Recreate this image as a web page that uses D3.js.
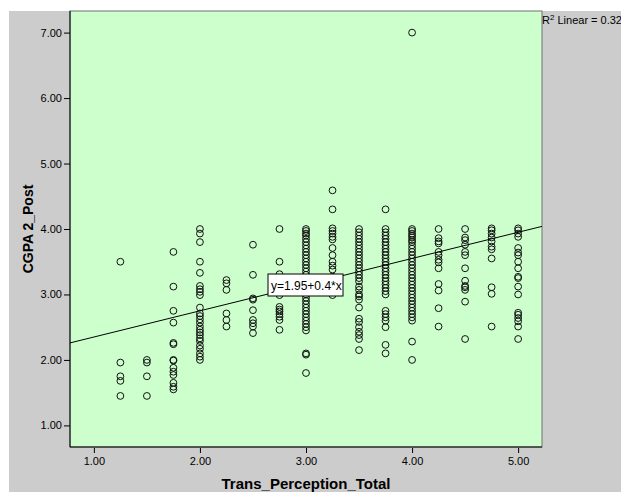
<!DOCTYPE html>
<html>
<head>
<meta charset="utf-8">
<script src="https://cdn.jsdelivr.net/npm/d3@7"></script>
<style>
body { margin: 0; background: #ffffff; }
text { font-family: Arial, "Liberation Sans", sans-serif; }
</style>
</head>
<body>
<svg></svg>
<script>
var screen = {width: 621, height: 492};
var plot = {left: 70, right: 542, top: 11, bottom: 447};

// x categories of Trans_Perception_Total
var xValues = [1.25, 1.5, 1.75, 2.0, 2.25, 2.5, 2.75, 3.0, 3.25, 3.5, 3.75, 4.0, 4.25, 4.5, 4.75, 5.0];

// CGPA 2_Post values for each x category
var col125 = [3.5, 1.96, 1.75, 1.68, 1.45];
var col150 = [2.0, 1.96, 1.75, 1.45];
var col175 = [3.65, 3.12, 2.75, 2.57, 2.26, 2.24, 2.0, 1.99, 1.88, 1.82, 1.77, 1.65, 1.59, 1.55];
var col200 = [4.0, 3.93, 3.8, 3.5, 3.33, 3.13, 3.08, 3.04, 2.99, 2.8, 2.71, 2.67, 2.62, 2.57, 2.51, 2.46, 2.42, 2.38, 2.33, 2.29, 2.22, 2.17, 2.1, 2.05, 2.0];
var col225 = [3.22, 3.17, 3.07, 2.71, 2.61, 2.51];
var col250 = [3.76, 3.3, 2.94, 2.92, 2.76, 2.61, 2.56, 2.51, 2.41];
var col275 = [4.0, 3.5, 3.31, 3.22, 2.99, 2.81, 2.77, 2.74, 2.7, 2.66, 2.61, 2.46];
var col300 = [4.0, 3.97, 3.93, 3.9, 3.85, 3.8, 3.75, 3.7, 3.65, 3.6, 3.55, 3.5, 3.45, 3.4, 3.35, 3.3, 3.25, 3.2, 3.15, 3.1, 3.05, 3.0, 2.95, 2.9, 2.85, 2.8, 2.75, 2.7, 2.65, 2.6, 2.55, 2.5, 2.45, 2.1, 2.08, 1.8];
var col325 = [4.59, 4.3, 4.01, 3.97, 3.93, 3.88, 3.84, 3.71, 3.6, 3.5, 3.44, 3.38, 3.27, 3.07, 2.99];
var col350 = [4.0, 3.95, 3.9, 3.85, 3.8, 3.75, 3.7, 3.65, 3.6, 3.55, 3.5, 3.45, 3.4, 3.35, 3.3, 3.25, 3.2, 3.12, 3.07, 3.0, 2.97, 2.92, 2.8, 2.63, 2.58, 2.5, 2.43, 2.38, 2.32, 2.15];
var col375 = [4.3, 4.0, 3.95, 3.9, 3.85, 3.8, 3.75, 3.7, 3.65, 3.6, 3.55, 3.5, 3.45, 3.4, 3.35, 3.3, 3.25, 3.2, 3.15, 3.1, 3.05, 3.0, 2.75, 2.7, 2.65, 2.6, 2.5, 2.23, 2.1];
var col400 = [7.0, 4.0, 3.97, 3.93, 3.9, 3.87, 3.83, 3.8, 3.75, 3.7, 3.65, 3.6, 3.55, 3.5, 3.45, 3.4, 3.35, 3.3, 3.25, 3.2, 3.15, 3.1, 3.05, 3.0, 2.95, 2.9, 2.85, 2.8, 2.75, 2.7, 2.65, 2.6, 2.28, 2.0];
var col425 = [4.0, 3.86, 3.81, 3.78, 3.65, 3.6, 3.53, 3.49, 3.4, 3.16, 3.06, 2.79, 2.51];
var col450 = [4.0, 3.87, 3.83, 3.76, 3.65, 3.6, 3.4, 3.21, 3.13, 3.11, 3.07, 2.89, 2.32];
var col475 = [4.01, 3.98, 3.93, 3.87, 3.81, 3.73, 3.69, 3.55, 3.11, 3.01, 2.51];
var col500 = [4.01, 3.98, 3.93, 3.88, 3.71, 3.64, 3.6, 3.5, 3.4, 3.27, 3.25, 3.12, 3.0, 2.72, 2.69, 2.64, 2.59, 2.51, 2.32];

var columns = [col125, col150, col175, col200, col225, col250, col275, col300,
               col325, col350, col375, col400, col425, col450, col475, col500];

// tick labels
var xTicks = [1, 2, 3, 4, 5];
var yTicks = [1, 2, 3, 4, 5, 6, 7];

// linear fit
var intercept = 1.95;
var slope = 0.4;
var rSquared = "0.32";

var points = [];
xValues.forEach(function(x, i) {
    columns[i].forEach(function(y) { points.push({x: x, y: y}); });
});

var svg = d3.select("svg")
    .attr("width", screen.width)
    .attr("height", screen.height);

var xScale = d3.scaleLinear()
    .domain([0.775, 5.225])
    .range([plot.left, plot.right]);

var yScale = d3.scaleLinear()
    .domain([0.67, 7.33])
    .range([plot.bottom, plot.top]);

// gray chart background
svg.append("rect")
    .attr("x", 9).attr("y", 11)
    .attr("width", screen.width - 9)
    .attr("height", screen.height - 11)
    .attr("fill", "#cccccc");

// plot area
svg.append("rect")
    .attr("x", plot.left).attr("y", plot.top)
    .attr("width", plot.right - plot.left)
    .attr("height", plot.bottom - plot.top)
    .attr("fill", "#ccffcc")
    .attr("stroke", "#707070")
    .attr("stroke-width", 1);

// axes
var xAxis = d3.axisBottom(xScale)
    .tickValues(xTicks)
    .tickFormat(d3.format(".2f"))
    .tickSizeInner(5).tickSizeOuter(0).tickPadding(4);

var yAxis = d3.axisLeft(yScale)
    .tickValues(yTicks)
    .tickFormat(d3.format(".2f"))
    .tickSizeInner(6).tickSizeOuter(0).tickPadding(2);

var gx = svg.append("g")
    .attr("transform", "translate(0," + (plot.bottom + 1) + ")")
    .call(xAxis);
gx.select(".domain").remove();

var gy = svg.append("g")
    .attr("transform", "translate(" + plot.left + ",0)")
    .call(yAxis);
gy.select(".domain").remove();

svg.selectAll(".tick text")
    .attr("font-family", "Arial, 'Liberation Sans', sans-serif")
    .attr("font-size", 11)
    .attr("fill", "#000");
svg.selectAll(".tick line").attr("stroke", "#000");

// black axis lines
svg.append("line")
    .attr("x1", plot.left).attr("x2", plot.left)
    .attr("y1", plot.top).attr("y2", plot.bottom)
    .attr("stroke", "#000");
svg.append("line")
    .attr("x1", plot.left).attr("x2", plot.right)
    .attr("y1", plot.bottom).attr("y2", plot.bottom)
    .attr("stroke", "#000");

// points
svg.append("g")
    .selectAll("circle")
    .data(points)
    .enter()
    .append("circle")
    .attr("cx", function(d) { return xScale(d.x); })
    .attr("cy", function(d) { return yScale(d.y); })
    .attr("r", 3.4)
    .attr("fill", "none")
    .attr("stroke", "#111")
    .attr("stroke-width", 1);

// fit line
var x0 = xScale.domain()[0], x1 = xScale.domain()[1];
svg.append("line")
    .attr("x1", xScale(x0)).attr("y1", yScale(intercept + slope * x0))
    .attr("x2", xScale(x1)).attr("y2", yScale(intercept + slope * x1))
    .attr("stroke", "#000")
    .attr("stroke-width", 1);

// equation box
var eq = svg.append("g").attr("transform", "translate(268,274)");
eq.append("rect")
    .attr("width", 75).attr("height", 22)
    .attr("fill", "#fff")
    .attr("stroke", "#000");
eq.append("text")
    .attr("x", 3).attr("y", 16)
    .attr("font-size", 12)
    .text("y=" + intercept + "+" + slope + "*x");

// R squared label
var r2 = svg.append("text")
    .attr("x", 542).attr("y", 24)
    .attr("font-size", 11);
r2.append("tspan").text("R");
r2.append("tspan").attr("dy", -4).attr("font-size", 8).text("2");
r2.append("tspan").attr("dy", 4).text(" Linear = " + rSquared);

// axis titles
svg.append("text")
    .attr("x", (plot.left + plot.right) / 2)
    .attr("y", 489)
    .attr("text-anchor", "middle")
    .attr("font-size", 15)
    .attr("font-weight", "bold")
    .text("Trans_Perception_Total");

svg.append("text")
    .attr("transform", "translate(33," + ((plot.top + plot.bottom) / 2) + ") rotate(-90)")
    .attr("text-anchor", "middle")
    .attr("font-size", 14)
    .attr("font-weight", "bold")
    .text("CGPA 2_Post");
</script>
</body>
</html>
